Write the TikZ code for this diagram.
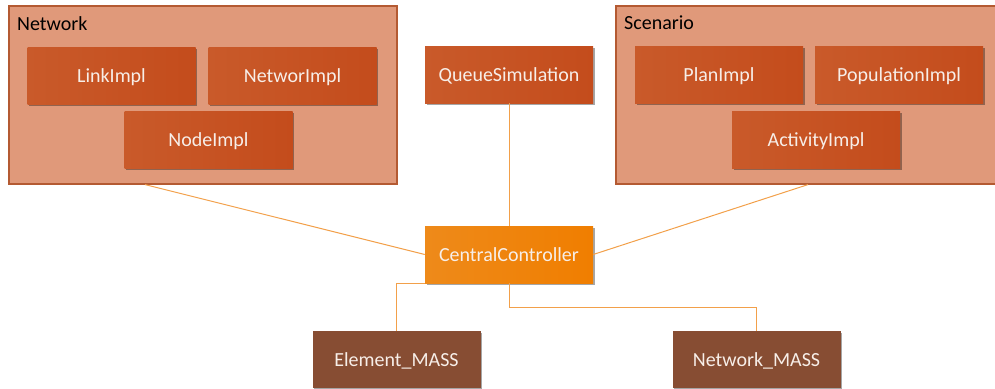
\documentclass[tikz,border=0pt]{standalone}
\usepackage{fontspec}
\setmainfont{Carlito}
\usetikzlibrary{shadows,calc}
\definecolor{contfill}{HTML}{E0997A}
\definecolor{contdraw}{HTML}{B45A32}
\definecolor{implL}{HTML}{C95A2A}
\definecolor{implM}{HTML}{C74C18}
\definecolor{implR}{HTML}{C44C1C}
\definecolor{ccL}{HTML}{EE8A1A}
\definecolor{ccR}{HTML}{F07E00}
\definecolor{massfill}{HTML}{874D33}
\definecolor{linkcol}{HTML}{F2A04A}
\definecolor{boxtext}{HTML}{F7EEE8}
\tikzset{
  container/.style={draw=contdraw, line width=1.2pt, fill=contfill, inner sep=0pt,
    minimum height=178pt},
  boxbase/.style={inner sep=0pt, minimum width=168pt, minimum height=57pt,
    text depth=0pt, text=boxtext, font=\fontsize{20}{24}\selectfont,
    drop shadow={shadow xshift=1.5pt, shadow yshift=-1.5pt, opacity=0.35, fill=black}},
  implbox/.style={boxbase, left color=implL, middle color=implM, right color=implR},
  ccbox/.style={boxbase, left color=ccL, right color=ccR},
  massbox/.style={boxbase, fill=massfill},
  title/.style={anchor=west, font=\fontsize{20}{24}\selectfont, text=black, inner sep=0pt},
  link/.style={draw=linkcol, line width=1pt}
}
\begin{document}
\begin{tikzpicture}[x=1pt, y=-1pt]
\useasboundingbox (0,0) rectangle (995,388);
% containers
\node[container, minimum width=388pt] (net) at (203,95) {};
\node[title] (nettitle) at (17,24) {Network};
\node[container, minimum width=384pt] (scen) at (808,95) {};
\node[title] (scentitle) at (624,23) {Scenario};
% inner boxes
\node[implbox] (link) at (111.5,75.5) {LinkImpl};
\node[implbox] (netimpl) at (292.5,75.5) {NetworImpl};
\node[implbox] (node) at (208.5,140) {NodeImpl};
\node[implbox] (queue) at (509,74.5) {QueueSimulation};
\node[implbox] (plan) at (719,75) {PlanImpl};
\node[implbox] (pop) at (899,75) {PopulationImpl};
\node[implbox] (act) at (816,140) {ActivityImpl};
\node[ccbox] (cc) at (509,254.5) {CentralController};
\node[massbox] (em) at (396.5,359.5) {Element\_MASS};
\node[massbox] (nm) at (756.5,359.5) {Network\_MASS};
% connectors
\coordinate (netout) at ([xshift=-58pt]net.south);
\draw[link] (netout) -- (cc.west);
\draw[link] (queue.south) -- (cc.north);
\draw[link] (scen.south) -- (cc.east);
\draw[link] (cc.south west) -- (em.north |- cc.south west) -- (em.north);
\draw[link] (cc.south) -- ($(cc.south)+(0,24)$) -| (nm.north);
\end{tikzpicture}
\end{document}
